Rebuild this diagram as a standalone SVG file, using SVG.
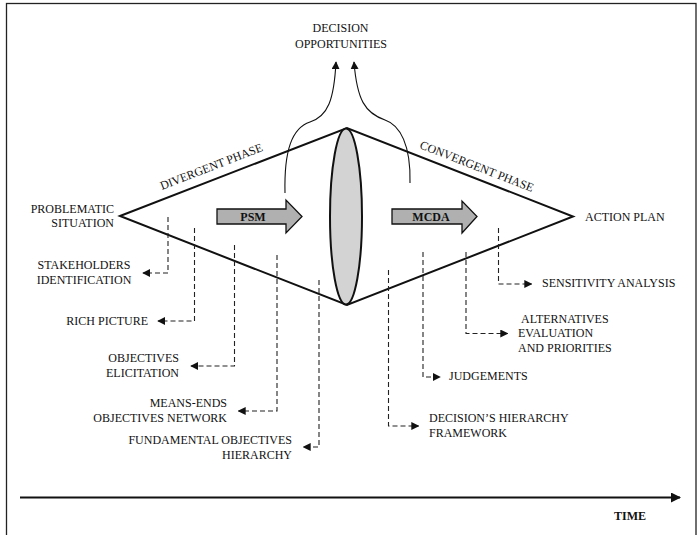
<svg xmlns="http://www.w3.org/2000/svg" width="700" height="535" viewBox="0 0 700 535">
<defs>
<style>
.t{font-family:"Liberation Serif","Times New Roman",serif;font-size:12px;fill:#111}
.b{font-weight:bold}
.ln{stroke:#111;stroke-width:2;fill:none}
.thin{stroke:#111;stroke-width:1.1;fill:none}
.d{stroke:#222;stroke-width:1.1;fill:none;stroke-dasharray:5 3}
.ar{fill:#b0b0b0;stroke:#111;stroke-width:1.3}
</style>
<marker id="ah" viewBox="0 0 10 10" refX="9" refY="5" markerWidth="8" markerHeight="8" markerUnits="userSpaceOnUse" orient="auto">
<path d="M0,0 L10,5 L0,10 Z" fill="#111"/>
</marker>
<marker id="ahb" viewBox="0 0 10 10" refX="9" refY="5" markerWidth="10" markerHeight="10" markerUnits="userSpaceOnUse" orient="auto">
<path d="M0,0 L10,5 L0,10 Z" fill="#111"/>
</marker>
</defs>
<rect width="700" height="535" fill="#fff"/>
<rect x="6.5" y="3.5" width="689.5" height="535" fill="none" stroke="#222" stroke-width="1.3"/>

<g id="diamond">
<path class="ln" d="M120,216 L347,128 L573,216.5 L347,305 Z"/>
<ellipse cx="346" cy="216.5" rx="16" ry="88" fill="#d3d3d3" stroke="#111" stroke-width="2"/>
<text class="t" transform="rotate(-21.2 162 190)" x="162" y="190" textLength="109" lengthAdjust="spacingAndGlyphs">DIVERGENT PHASE</text>
<text class="t" transform="rotate(21.3 419 148)" x="419" y="148" textLength="121" lengthAdjust="spacingAndGlyphs">CONVERGENT PHASE</text>
</g>

<g id="psm">
<path class="ar" d="M217,209 L286,209 L286,200 L302,216.5 L286,233 L286,224 L217,224 Z"/>
<text class="t b" x="253" y="221" text-anchor="middle">PSM</text>
</g>
<g id="mcda">
<path class="ar" d="M392,209 L462,209 L462,201 L477,216.5 L462,233 L462,224 L392,224 Z"/>
<text class="t b" x="431" y="221" text-anchor="middle">MCDA</text>
</g>

<g id="decision-opportunities">
<text class="t" x="340.5" y="32" text-anchor="middle">DECISION</text>
<text class="t" x="341" y="48" text-anchor="middle">OPPORTUNITIES</text>
</g>
<g id="problematic-situation">
<text class="t" x="114" y="213" text-anchor="end">PROBLEMATIC</text>
<text class="t" x="114" y="227" text-anchor="end">SITUATION</text>
</g>
<g id="action-plan"><text class="t" x="585" y="220.5">ACTION PLAN</text></g>
<g id="stakeholders">
<text class="t" x="84" y="269" text-anchor="middle">STAKEHOLDERS</text>
<text class="t" x="84" y="284" text-anchor="middle">IDENTIFICATION</text>
</g>
<g id="rich-picture"><text class="t" x="148" y="325" text-anchor="end">RICH PICTURE</text></g>
<g id="objectives-elicitation">
<text class="t" x="179" y="362" text-anchor="end">OBJECTIVES</text>
<text class="t" x="179" y="377" text-anchor="end">ELICITATION</text>
</g>
<g id="means-ends">
<text class="t" x="227" y="407" text-anchor="end">MEANS-ENDS</text>
<text class="t" x="227" y="421.5" text-anchor="end">OBJECTIVES NETWORK</text>
</g>
<g id="fundamental">
<text class="t" x="292" y="444" text-anchor="end">FUNDAMENTAL OBJECTIVES</text>
<text class="t" x="292" y="459" text-anchor="end">HIERARCHY</text>
</g>
<g id="sensitivity"><text class="t" x="542" y="287">SENSITIVITY ANALYSIS</text></g>
<g id="alternatives">
<text class="t" x="521" y="322.5">ALTERNATIVES</text>
<text class="t" x="518" y="337">EVALUATION</text>
<text class="t" x="518" y="352">AND PRIORITIES</text>
</g>
<g id="judgements"><text class="t" x="449" y="380">JUDGEMENTS</text></g>
<g id="decisions-hierarchy">
<text class="t" x="429" y="421.5">DECISION’S HIERARCHY</text>
<text class="t" x="429" y="436.5">FRAMEWORK</text>
</g>
<g id="time">
<text class="t b" x="630" y="520" text-anchor="middle" font-size="14">TIME</text>
</g>

<g id="connectors">
<path class="thin" marker-end="url(#ah)" d="M285,193 C284,150 292,128 310,122 C328,116 334,100 336,62"/>
<path class="thin" marker-end="url(#ah)" d="M410,183 C411,145 400,125 385,120 C365,113 357,100 354,62"/>
<path class="d" marker-end="url(#ah)" d="M168,217 L168,273 L143,273"/>
<path class="d" marker-end="url(#ah)" d="M194.5,228 L194.5,321 L158,321"/>
<path class="d" marker-end="url(#ah)" d="M234.5,245 L234.5,366 L191,366"/>
<path class="d" marker-end="url(#ah)" d="M277,255 L277,411 L238.5,411"/>
<path class="d" marker-end="url(#ah)" d="M319,280 L319,447 L303.5,447"/>
<path class="d" marker-end="url(#ah)" d="M498.5,228 L498.5,284 L531.5,284"/>
<path class="d" marker-end="url(#ah)" d="M466,252 L466,333.5 L507.5,333.5"/>
<path class="d" marker-end="url(#ah)" d="M423,252 L423,377 L440,377"/>
<path class="d" marker-end="url(#ah)" d="M388.5,270 L388.5,426 L418.5,426"/>
<path class="ln" marker-end="url(#ahb)" d="M20,497.5 L680,497.5"/>
</g>
</svg>
